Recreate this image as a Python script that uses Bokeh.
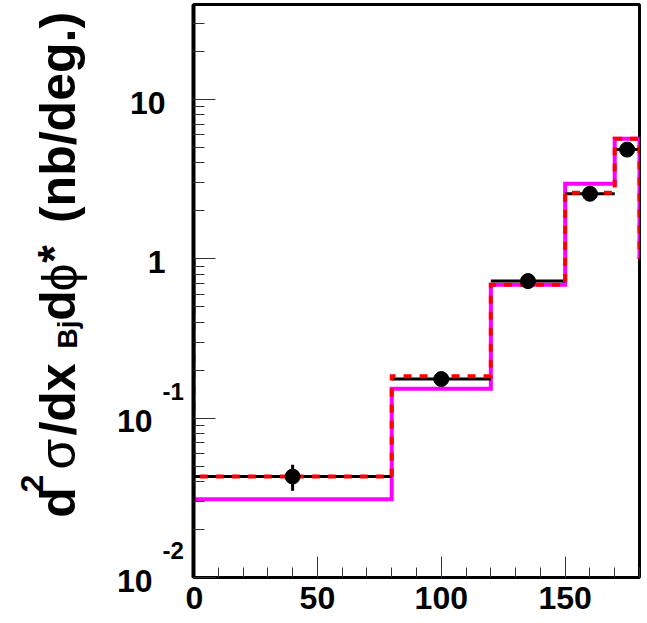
import math
from bokeh.plotting import figure
from bokeh.layouts import row
from bokeh.models import FixedTicker, SingleIntervalTicker, CustomJSTickFormatter
from bokeh.core.properties import value
from bokeh.embed import file_html
from bokeh.resources import INLINE

# ---------------- data ----------------
bin_edges = [0, 80, 120, 150, 170, 180]
phi_centers = [40, 100, 135, 160, 175]
data_vals = [0.043, 0.176, 0.725, 2.56, 4.85]
data_err_lo = [0.035, 0.167, 0.69, 2.45, 4.62]
data_err_hi = [0.051, 0.186, 0.76, 2.68, 5.08]
model_red = [0.043, 0.183, 0.688, 2.60, 5.67]
model_magenta = [0.031, 0.153, 0.688, 2.96, 5.67]
hist_end_level = 1.0

y_decades = [0.01, 0.1, 1, 10]
y_minor = [0.02, 0.03, 0.04, 0.05, 0.06, 0.07, 0.08, 0.09,
           0.2, 0.3, 0.4, 0.5, 0.6, 0.7, 0.8, 0.9,
           2, 3, 4, 5, 6, 7, 8, 9, 20, 30]
y_tick_text = ["10", "10", "1", "10"]
y_tick_exp = ["-2", "-1", "", ""]

# ---------------- geometry ----------------
W, H = 647, 623
LEFT_W = 185
L, R, T, B = 8, 8, 4, 46          # borders of the main figure
FW, FH = W - LEFT_W - L - R, H - T - B
XMIN, XMAX = 0, 180
YMIN = 0.01
DEC_PX = 159.33                   # pixels per decade
YMAX = 10 ** (math.log10(YMIN) + FH / DEC_PX)
FONT = "Liberation Sans"


def dy(sy):
    """page pixel row -> data value on the shared log scale"""
    return 10 ** (math.log10(YMIN) + (H - B - sy) / DEC_PX)


def step(vals):
    xs = [bin_edges[0]]
    ys = [hist_end_level]
    for i, v in enumerate(vals):
        xs += [bin_edges[i], bin_edges[i + 1]]
        ys += [v, v]
    xs.append(bin_edges[-1])
    ys.append(hist_end_level)
    return xs, ys


# ---------------- main plot ----------------
p = figure(frame_width=FW, frame_height=FH, x_range=(XMIN, XMAX), y_range=(YMIN, YMAX),
           y_axis_type="log", output_backend="svg", toolbar_location=None,
           min_border_left=L, min_border_right=R, min_border_top=T,
           min_border_bottom=B)
p.frame_align = False
p.grid.visible = False
p.background_fill_color = "white"
p.border_fill_color = "white"
p.outline_line_color = "black"
p.outline_line_width = 3

p.xaxis.ticker = SingleIntervalTicker(interval=50, num_minor_ticks=5)
p.xaxis.axis_line_width = 3
p.xaxis.major_tick_in = 21
p.xaxis.major_tick_out = 0
p.xaxis.minor_tick_in = 10
p.xaxis.minor_tick_out = 0
p.xaxis.major_tick_line_color = "#333333"
p.xaxis.minor_tick_line_color = "#333333"
p.xaxis.major_label_text_font = FONT
p.xaxis.major_label_text_font_style = "bold"
p.xaxis.major_label_text_font_size = "32px"
p.xaxis.major_label_text_color = "black"
p.xaxis.major_label_standoff = 9

p.yaxis.ticker = FixedTicker(ticks=y_decades, minor_ticks=y_minor)
p.yaxis.axis_line_width = 4
p.yaxis.major_tick_in = 22
p.yaxis.major_tick_out = 0
p.yaxis.minor_tick_in = 11
p.yaxis.minor_tick_out = 0
p.yaxis.major_tick_line_color = "#333333"
p.yaxis.minor_tick_line_color = "#333333"
p.yaxis.major_label_standoff = 0
p.yaxis.formatter = CustomJSTickFormatter(code="return '';")

mx, my = step(model_magenta)
p.line(mx, my, color="#ff00ff", line_width=4, line_join="miter")
p.segment(x0=bin_edges[:-1], x1=bin_edges[1:], y0=data_vals, y1=data_vals,
          color="black", line_width=3)
rx, ry = step(model_red)
p.line(rx, ry, color="#ff0000", line_width=4, line_dash="8 8", line_join="miter")
p.segment(x0=phi_centers, x1=phi_centers, y0=data_err_lo, y1=data_err_hi,
          color="black", line_width=3)
p.scatter(phi_centers, data_vals, size=15, color="black")

# ---------------- left strip: y tick labels and y title ----------------
lp = figure(frame_width=LEFT_W, frame_height=H, x_range=(0, LEFT_W),
            y_range=(dy(H), dy(0)), y_axis_type="log",
            output_backend="svg", toolbar_location=None,
            x_axis_location=None, y_axis_location=None,
            min_border_left=0, min_border_right=0, min_border_top=0,
            min_border_bottom=0)
lp.frame_align = False
lp.grid.visible = False
lp.outline_line_color = None
lp.background_fill_color = "white"
lp.border_fill_color = "white"

for val, txt, ex in zip(y_decades, y_tick_text, y_tick_exp):
    lp.text(x=[152 if ex else 165], y=[val], text=[txt], y_offset=3,
            text_align="right", text_baseline="middle",
            text_font=value(FONT), text_font_style="bold",
            text_font_size="32px", text_color="black")
    if ex:
        lp.text(x=[162], y=[val], text=[ex], y_offset=-27,
                text_align="left", text_baseline="middle",
                text_font=value(FONT), text_font_style="bold",
                text_font_size="24px", text_color="black")

# rotated title pieces, centre-anchored: (text, centre x, centre row, size, style)
title_parts = [
    ("d", 57.5, 502, 50, "bold"),
    ("2", 31.5, 483, 32, "bold"),
    ("σ", 57.5, 453.5, 50, "normal"),
    ("/dx", 57.5, 399, 50, "bold"),
    ("Bj", 67, 334, 28, "bold"),
    ("d", 57.5, 305, 50, "bold"),
    ("ϕ", 59, 277, 50, "normal"),
    ("*", 53, 253.5, 46, "bold"),
    ("(nb/deg.)", 57.5, 117, 50, "bold"),
]
for txt, cx, sy, fs, st in title_parts:
    lp.text(x=[cx], y=[dy(sy)], text=[txt], angle=math.pi / 2,
            text_align="center", text_baseline="middle",
            text_font=value(FONT), text_font_style=st,
            text_font_size=f"{fs}px", text_color="black")

layout = row(lp, p, spacing=0)
open("out.html", "w").write(file_html(layout, INLINE))
